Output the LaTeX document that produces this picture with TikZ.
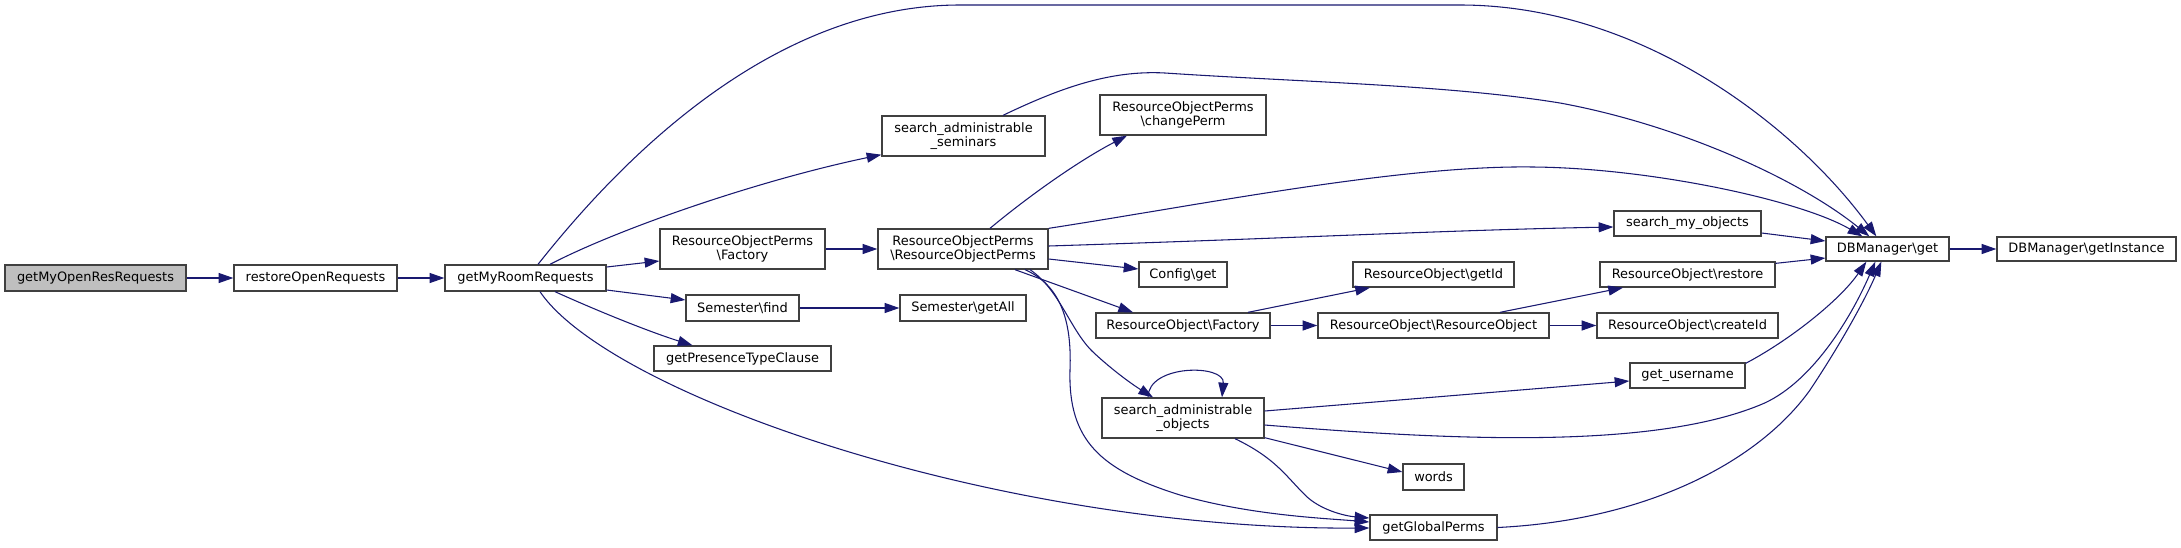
\documentclass[tikz,border=0pt]{standalone}
\usepackage{fontspec}
\setmainfont{DejaVu Sans}
\usetikzlibrary{arrows.meta,calc}
\definecolor{edgec}{HTML}{191970}
\definecolor{boxc}{HTML}{404040}
\definecolor{rootc}{HTML}{BFBFBF}
\begin{document}
\begin{tikzpicture}[x=0.75pt,y=-0.75pt,
  fn/.style={draw=boxc, line width=1pt, fill=white, inner sep=0pt, align=center, font=\fontsize{9.7}{11}\selectfont},
  bw/.style={minimum width=#1*0.75pt},
  bh/.style={minimum height=#1*0.75pt},
  e/.style={draw=edgec, line width=0.8pt, -{Triangle[length=11pt,width=7.5pt]}}]
\useasboundingbox (0,0) rectangle (2181,547);

\node[fn,fill=rootc,bw=181,bh=26] (gmorr) at (95.5,278) {getMyOpenResRequests};
\node[fn,bw=163,bh=26] (ror) at (315.5,278) {restoreOpenRequests};
\node[fn,bw=161,bh=26] (gmrr) at (525.5,278) {getMyRoomRequests};
\node[fn,bw=165,bh=40] (ropf) at (742.5,249) {ResourceObjectPerms\\\textbackslash Factory};
\node[fn,bw=113,bh=26] (sfind) at (742.5,308) {Semester\textbackslash find};
\node[fn,bw=177,bh=25] (gptc) at (742.5,358.5) {getPresenceTypeClause};
\node[fn,bw=163,bh=40] (sas) at (963.5,136) {search\_administrable\\\_seminars};
\node[fn,bw=166,bh=40] (cp) at (1183,115) {ResourceObjectPerms\\\textbackslash changePerm};
\node[fn,bw=170,bh=40] (rorp) at (963,249) {ResourceObjectPerms\\\textbackslash ResourceObjectPerms};
\node[fn,bw=88,bh=25] (cget) at (1183,274.5) {Config\textbackslash get};
\node[fn,bw=126,bh=26] (sgetall) at (963,308) {Semester\textbackslash getAll};
\node[fn,bw=174,bh=25] (rof) at (1183,325.5) {ResourceObject\textbackslash Factory};
\node[fn,bw=162,bh=40] (sao) at (1183,418) {search\_administrable\\\_objects};
\node[fn,bw=147,bh=25] (smo) at (1687.5,223.5) {search\_my\_objects};
\node[fn,bw=161,bh=25] (getid) at (1433.5,274.5) {ResourceObject\textbackslash getId};
\node[fn,bw=175,bh=25] (rorest) at (1687.5,274.5) {ResourceObject\textbackslash restore};
\node[fn,bw=231,bh=25] (roro) at (1433.5,325.5) {ResourceObject\textbackslash ResourceObject};
\node[fn,bw=181,bh=25] (createid) at (1687.5,325.5) {ResourceObject\textbackslash createId};
\node[fn,bw=115,bh=25] (getuser) at (1687.5,375.5) {get\_username};
\node[fn,bw=61,bh=26] (words) at (1433.5,477) {words};
\node[fn,bw=127,bh=25] (ggp) at (1433.5,527.5) {getGlobalPerms};
\node[fn,bw=123,bh=24] (dbget) at (1887.5,249) {DBManager\textbackslash get};
\node[fn,bw=179,bh=24] (dbgi) at (2086.5,249) {DBManager\textbackslash getInstance};

\draw[e] (gmorr) -- (ror);
\draw[e] (ror) -- (gmrr);
\draw[e] ($(gmrr.north)+(12.5,0)$) .. controls (605,180) and (760,5) .. (960,5) -- (1460,5) .. controls (1640,5) and (1795,125) .. ($(dbget.north west)+(51,0)$);
\draw[e] ($(gmrr.north)+(24.5,0)$) .. controls (620,228) and (760,180) .. ($(sas.south west)+(0,-2)$);
\draw[e] ($(gmrr.east)+(0,-11)$) -- ($(ropf.west)+(0,12)$);
\draw[e] ($(gmrr.east)+(0,12)$) -- ($(sfind.west)+(0,-8)$);
\draw[e] ($(gmrr.south)+(29.5,0)$) .. controls (600,312) and (650,332) .. ($(gptc.north)+(-50,0)$);
\draw[e] ($(gmrr.south)+(14.5,0)$) .. controls (610,395) and (1000,530) .. ($(ggp.west)+(0,0.5)$);
\draw[e] ($(sas.north)+(39.5,0)$) .. controls (1060,88) and (1110,70) .. (1165,73) .. controls (1300,82) and (1450,85) .. (1560,103) .. controls (1680,125) and (1800,180) .. ($(dbget.north west)+(44,0)$);
\draw[e] (ropf) -- (rorp);
\draw[e] ($(rorp.north)+(27,0)$) .. controls (1030,195) and (1080,160) .. ($(cp.south)+(-56,0)$);
\draw[e] (rorp.north east) .. controls (1200,205) and (1400,165) .. (1533,167) .. controls (1650,168) and (1800,200) .. ($(dbget.north west)+(37,0)$);
\draw[e] ($(rorp.east)+(0,-3)$) .. controls (1300,238) and (1450,230) .. ($(smo.west)+(0,3.5)$);
\draw[e] ($(rorp.east)+(0,10)$) -- ($(cget.west)+(0,-5.5)$);
\draw[e] ($(rorp.south)+(52,0)$) -- ($(rof.north)+(-50,0)$);
\draw[e] ($(rorp.south)+(67,0)$) .. controls (1060,290) and (1070,330) .. (1093,352) .. controls (1110,368) and (1130,383) .. ($(sao.north)+(-30,0)$);
\draw[e] ($(rorp.south)+(62,0)$) .. controls (1060,285) and (1072,320) .. (1070,370) .. controls (1068,440) and (1100,470) .. (1180,495) .. controls (1250,515) and (1320,518) .. ($(ggp.west)+(0,-5.5)$);
\draw[e] ($(sao.north)+(-35,0)$) .. controls (1148,364) and (1225,364) .. ($(sao.north)+(39,0)$);
\draw[e] ($(rof.north)+(65,0)$) -- ($(getid.south)+(-63.5,0)$);
\draw[e] (rof) -- (roro);
\draw[e] ($(roro.north)+(66.5,0)$) -- ($(rorest.south)+(-64.5,0)$);
\draw[e] (roro) -- (createid);
\draw[e] ($(rorest.north east)+(0,2)$) -- ($(dbget.west)+(0,9)$);
\draw[e] ($(smo.east)+(0,9.5)$) -- ($(dbget.west)+(0,-8)$);
\draw[e] ($(sao.east)+(0,-7)$) .. controls (1400,400) and (1520,390) .. ($(getuser.west)+(0,5.5)$);
\draw[e] ($(sao.east)+(0,7)$) .. controls (1450,440) and (1650,450) .. (1760,405) .. controls (1810,385) and (1850,320) .. ($(dbget.south west)+(50,0)$);
\draw[e] ($(sao.south east)+(0,-1)$) -- ($(words.west)+(0,-5)$);
\draw[e] ($(sao.south)+(52,0)$) .. controls (1275,458) and (1285,475) .. (1305,495) .. controls (1320,510) and (1345,516) .. ($(ggp.west)+(0,-9.5)$);
\draw[e] ($(getuser.north east)+(0,1)$) .. controls (1790,340) and (1840,300) .. ($(dbget.south west)+(41,0)$);
\draw[e] (ggp.east) .. controls (1650,520) and (1760,460) .. (1810,390) .. controls (1840,345) and (1865,300) .. ($(dbget.south west)+(56,0)$);
\draw[e] (dbget) -- (dbgi);
\draw[e] (sfind) -- (sgetall);
\end{tikzpicture}
\end{document}
